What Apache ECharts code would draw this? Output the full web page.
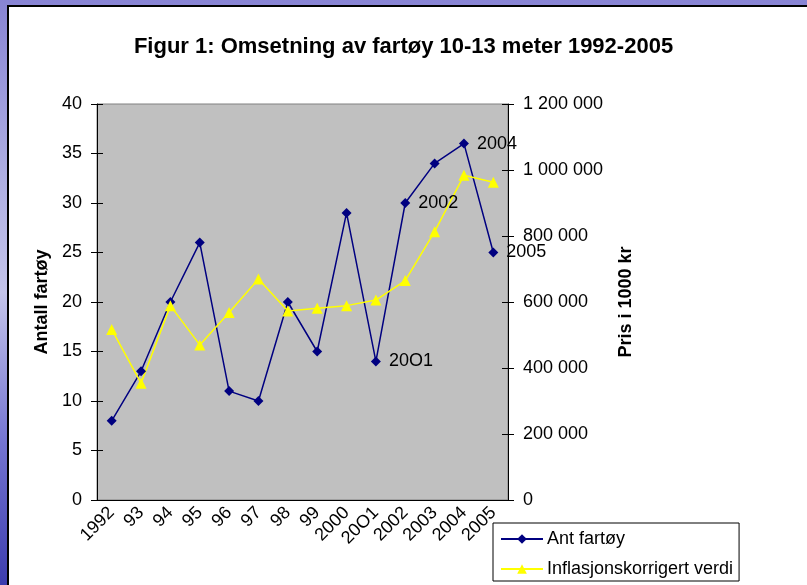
<!DOCTYPE html>
<html>
<head>
<meta charset="utf-8">
<script src="https://cdn.jsdelivr.net/npm/echarts@6/dist/echarts.min.js"></script>
<style>
  html, body { margin: 0; padding: 0; }
  body {
    width: 807px; height: 585px; overflow: hidden; position: relative;
    background: linear-gradient(to bottom, #8884d4 0%, #aeaee2 30%, #c4c4ea 50%, #7676d2 75%, #3c3cae 100%);
  }
  .sheet {
    position: absolute; left: 7px; top: 5px; right: 0; bottom: 0;
    background: #fff; border-left: 2px solid #000; border-top: 2px solid #000;
  }
  #chart { position: absolute; left: 0; top: 0; width: 807px; height: 585px; }
</style>
</head>
<body>
<div class="sheet"></div>
<div id="chart"></div>
<script>
// år (20O1 skrevet slik i originalen)
var years = ["1992", "93", "94", "95", "96", "97", "98", "99", "2000", "20O1", "2002", "2003", "2004", "2005"];
// antall fartøy (venstre akse)
var antFartoy = [8, 13, 20, 26, 11, 10, 20, 15, 29, 14, 30, 34, 36, 25];
// inflasjonskorrigert verdi, 1000 kr (høyre akse)
var inflVerdi = [517000, 354000, 589000, 470000, 568000, 670000, 573000, 581000, 589000, 606000, 665000, 813000, 984000, 963000];
// punkter med årstall ved siden av
var labelled = [9, 10, 12, 13];

var font = "Liberation Sans, Arial, sans-serif";

function space(v) {
  return String(v).replace(/\B(?=(\d{3})+(?!\d))/g, " ");
}

var chart = echarts.init(document.getElementById("chart"));
chart.setOption({
  backgroundColor: "transparent",
  textStyle: { fontFamily: font },
  title: {
    text: "Figur 1: Omsetning av fartøy 10-13 meter 1992-2005",
    left: "center",
    top: 31,
    textStyle: { fontSize: 22, fontWeight: "bold", color: "#000", fontFamily: font }
  },
  grid: {
    left: 97, right: 299, top: 104, bottom: 85,
    show: true, backgroundColor: "#c0c0c0", borderColor: "#808080", borderWidth: 1
  },
  legend: {
    orient: "vertical",
    left: 493, top: 523,
    backgroundColor: "#fff",
    borderColor: "#000", borderWidth: 1, borderRadius: 0,
    padding: [7, 6, 3, 7],
    itemWidth: 42, itemHeight: 12, itemGap: 12,
    textStyle: { fontSize: 18, color: "#000", fontFamily: font, padding: [0, 0, 0, -1] },
    data: ["Ant fartøy", "Inflasjonskorrigert verdi"]
  },
  xAxis: [
    {
      type: "category",
      data: years,
      boundaryGap: true,
      axisLine: { lineStyle: { color: "#000", width: 1 } },
      axisTick: { length: 6, lineStyle: { color: "#000" } },
      axisLabel: { rotate: 45, margin: 10, fontSize: 18, color: "#000", interval: 0, fontFamily: font }
    },
    {
      type: "category",
      data: years,
      position: "bottom",
      axisLine: { show: false },
      axisTick: { inside: true, length: 6, lineStyle: { color: "#000" } },
      axisLabel: { show: false }
    }
  ],
  yAxis: [
    {
      type: "value",
      min: 0, max: 40, interval: 5,
      position: "left",
      name: "Antall fartøy",
      nameLocation: "middle",
      nameGap: 46,
      nameTextStyle: { fontSize: 18, fontWeight: "bold", color: "#000", fontFamily: font },
      axisLine: { show: true, lineStyle: { color: "#000" } },
      axisTick: { show: true, length: 6, lineStyle: { color: "#000" } },
      axisLabel: { margin: 15, fontSize: 18, color: "#000", fontFamily: font },
      splitLine: { show: false }
    },
    {
      type: "value",
      min: 0, max: 1200000, interval: 200000,
      position: "right",
      name: "Pris i 1000 kr",
      nameLocation: "middle",
      nameGap: 109,
      nameTextStyle: { fontSize: 18, fontWeight: "bold", color: "#000", fontFamily: font },
      axisLine: { show: true, lineStyle: { color: "#000" } },
      axisTick: { show: true, length: 6, lineStyle: { color: "#000" } },
      axisLabel: { margin: 15, fontSize: 18, color: "#000", fontFamily: font, formatter: space },
      splitLine: { show: false }
    },
    {
      type: "value",
      min: 0, max: 40, interval: 5,
      position: "left",
      axisLine: { show: false },
      axisTick: { show: true, inside: true, length: 6, lineStyle: { color: "#000" } },
      axisLabel: { show: false },
      splitLine: { show: false }
    },
    {
      type: "value",
      min: 0, max: 1200000, interval: 200000,
      position: "right",
      axisLine: { show: false },
      axisTick: { show: true, inside: true, length: 6, lineStyle: { color: "#000" } },
      axisLabel: { show: false },
      splitLine: { show: false }
    }
  ],
  series: [
    {
      name: "Ant fartøy",
      type: "line",
      yAxisIndex: 0,
      symbol: "diamond",
      symbolSize: 10,
      itemStyle: { color: "#000080" },
      lineStyle: { color: "#000080", width: 1.5 },
      label: {
        show: false,
        position: "right",
        distance: 8,
        fontSize: 18,
        color: "#000",
        fontFamily: font,
        formatter: function (p) { return p.name; }
      },
      data: antFartoy.map(function (v, i) {
        return labelled.indexOf(i) >= 0 ? { value: v, label: { show: true } } : v;
      }),
      animation: false
    },
    {
      name: "Inflasjonskorrigert verdi",
      type: "line",
      yAxisIndex: 1,
      symbol: "triangle",
      symbolSize: 11,
      itemStyle: { color: "#ffff00" },
      lineStyle: { color: "#ffff00", width: 1.5 },
      data: inflVerdi,
      animation: false
    }
  ]
});
</script>
</body>
</html>
